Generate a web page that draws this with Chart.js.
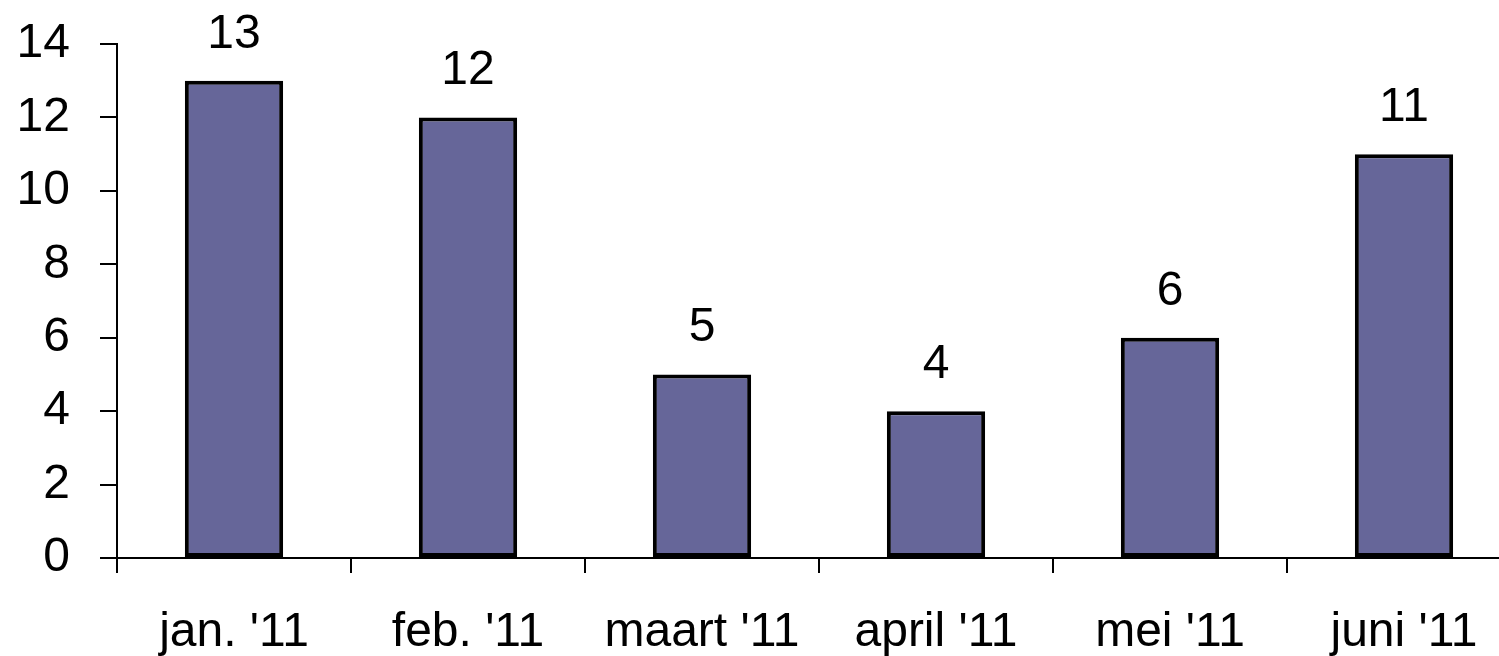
<!DOCTYPE html>
<html>
<head>
<meta charset="utf-8">
<script src="https://cdn.jsdelivr.net/npm/chart.js@4.4.0/dist/chart.umd.min.js"></script>
<style>
  html, body { margin: 0; padding: 0; background: #fff; overflow: hidden; }
  #wrap { width: 1530px; height: 656px; position: relative; }
</style>
</head>
<body>
<div id="wrap"><canvas id="chart"></canvas></div>
<script>
// data
const maanden = ["jan. '11", "feb. '11", "maart '11", "april '11", "mei '11", "juni '11"];
const aantallen = [13, 12, 5, 4, 6, 11];
const yTicks = [0, 2, 4, 6, 8, 10, 12, 14];

const fontFam = '"Liberation Sans", Arial, sans-serif';

// waarden boven de staven
const waardeLabels = {
    id: 'waardeLabels',
    afterDatasetsDraw(chart) {
        const ctx = chart.ctx;
        const meta = chart.getDatasetMeta(0);
        ctx.save();
        ctx.font = '48px ' + fontFam;
        ctx.fillStyle = '#000';
        ctx.textAlign = 'center';
        ctx.textBaseline = 'alphabetic';
        meta.data.forEach((bar, i) => {
            ctx.fillText(String(aantallen[i]), bar.x, bar.y - 33);
        });
        ctx.restore();
    }
};

new Chart(document.getElementById('chart'), {
    type: 'bar',
    data: {
        labels: maanden,
        datasets: [{
            data: aantallen,
            backgroundColor: '#666699',
            borderColor: '#000',
            borderWidth: 4,
            borderSkipped: false,
            categoryPercentage: 1,
            barPercentage: 0.42
        }]
    },
    options: {
        responsive: true,
        maintainAspectRatio: false,
        animation: false,
        layout: { padding: { top: 44, right: 9, left: 0, bottom: 0 } },
        plugins: { legend: { display: false }, tooltip: { enabled: false } },
        scales: {
            x: {
                grid: { drawOnChartArea: false, tickLength: 15, color: '#000', lineWidth: 2, offset: true },
                border: { color: '#000', width: 2 },
                ticks: { color: '#000', padding: 31, font: { family: fontFam, size: 48 }, maxRotation: 0, autoSkip: false },
                afterFit: (s) => { s.height = 98; s.paddingLeft = 0; s.paddingRight = 0; }
            },
            y: {
                min: 0,
                max: 14,
                grid: { drawOnChartArea: false, tickLength: 17, color: '#000', lineWidth: 2 },
                border: { color: '#000', width: 2 },
                afterBuildTicks: (s) => { s.ticks = yTicks.map(v => ({ value: v })); },
                ticks: { color: '#000', padding: 30, font: { family: fontFam, size: 48 } },
                afterFit: (s) => { s.width = 117; s.paddingTop = 0; s.paddingBottom = 0; }
            }
        }
    },
    plugins: [waardeLabels]
});
</script>
</body>
</html>
